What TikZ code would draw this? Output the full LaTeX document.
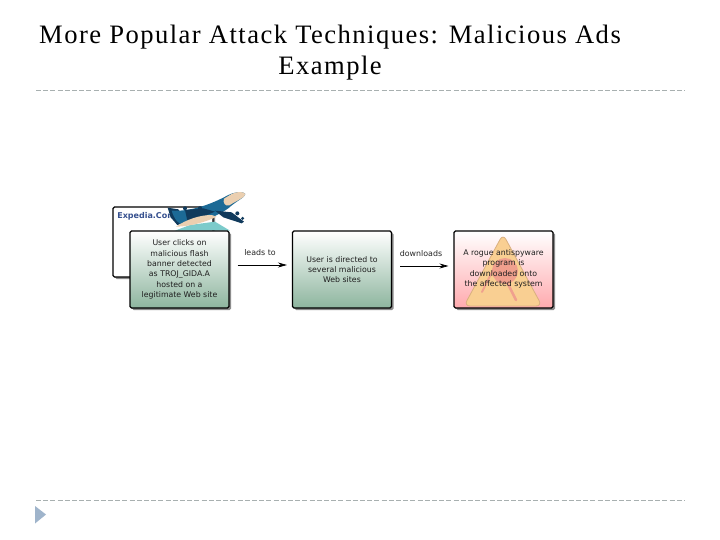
\documentclass[tikz,border=0pt]{standalone}
\usepackage{fontspec}
\setmainfont{Liberation Serif}
\setsansfont{DejaVu Sans}
\newfontfamily\titlefont[LetterSpace=5.5]{Liberation Serif}
\usetikzlibrary{shadows,arrows.meta}
\definecolor{rule}{HTML}{A8B0B0}
\definecolor{bul}{HTML}{9FB4CB}
\definecolor{boxgreen}{HTML}{8DB59E}
\definecolor{boxpink}{HTML}{FFAAAE}
\definecolor{planeblue}{HTML}{1C6A96}
\definecolor{planedark}{HTML}{103A5C}
\definecolor{planelight}{HTML}{EBCFB0}
\definecolor{expblue}{HTML}{36508F}
\definecolor{wedge}{HTML}{7CCBCB}
\definecolor{tri}{HTML}{F9CF92}
\definecolor{triedge}{HTML}{D9B080}
\definecolor{trired}{HTML}{F0A08E}
\tikzset{
  flow/.style={draw=black,line width=1.1pt,rounded corners=1.5pt,minimum width=99pt,minimum height=77pt,
    inner sep=0pt,general shadow={shadow xshift=2pt,shadow yshift=-2pt,fill=black!45}},
  flow text/.style={align=center,inner sep=0pt,font=\sffamily\fontsize{7.8}{10.4}\selectfont,text=black!88},
  green box/.style={flow,top color=white,bottom color=boxgreen},
  pink box/.style={flow,top color=white,bottom color=boxpink},
  link/.style={line width=0.7pt,-{Stealth[length=9pt,width=5pt]},shorten >=5pt,shorten <=8pt},
  link text/.style={font=\sffamily\fontsize{7.9}{9}\selectfont,text=black!85,inner sep=0pt},
  title/.style={font=\titlefont\fontsize{26.6}{30}\selectfont,text=black,inner sep=0pt},
  rule line/.style={draw=rule,line width=0.8pt,dash pattern=on 5pt off 2.2pt},
}
\begin{document}
\begin{tikzpicture}[x=1pt,y=-1pt]
\useasboundingbox (0,0) rectangle (720,540);
\fill[white] (0,0) rectangle (720,540);
\node[title] (t1) at (330,37.5) {More Popular Attack Techniques: Malicious Ads};
\node[title] (t2) at (330,68) {Example};
\draw[rule line] (36,90.5) -- (685,90.5);
\draw[rule line] (36,500.5) -- (685,500.5);
\fill[bul] (35,506) -- (46,514.5) -- (35,523.5) -- cycle;
% back window
\node[flow,fill=white,minimum width=100pt,minimum height=70pt] (back) at (163,242) {};
\node[font=\sffamily\bfseries\fontsize{8}{9}\selectfont,text=expblue,inner sep=0pt] (exp) at (146.5,216) {Expedia.Com};
% plane (coordinates: 3x crop at 100,180)
\begin{scope}[shift={(100,180)},x=0.3333pt,y=-0.3333pt]
  \fill[wedge] (225,152) -- (270,135) -- (345,125) -- (390,152) -- cycle;
  \fill[planedark] (203,83) -- (235,88) -- (262,125) -- (232,135) -- (212,112) -- cycle;
  \fill[planeblue] (215,92) .. controls (270,95) and (330,75) .. (385,45) .. controls (410,33) and (433,35) .. (436,42)
    .. controls (436,52) and (410,62) .. (385,85) .. controls (350,110) and (300,128) .. (255,136)
    .. controls (235,136) and (222,115) .. (215,92) -- cycle;
  \fill[planelight] (395,42) .. controls (412,33) and (433,35) .. (436,42) .. controls (436,52) and (410,62) .. (388,76)
    .. controls (375,80) and (368,68) .. (372,56) -- cycle;
  \fill[planedark] (255,90) -- (310,85) -- (345,95) -- (290,118) -- (262,122) -- cycle;
  \fill[planelight] (228,140) .. controls (260,118) and (300,105) .. (335,105) -- (350,110) .. controls (320,125) and (270,140) .. (228,140) -- cycle;
  \fill[planedark] (345,92) -- (395,97) -- (432,125) -- (425,130) -- (370,112) -- cycle;
  \fill[planedark] (255,85) circle[radius=6] (300,85) circle[radius=6.5] (412,100) circle[radius=6] (428,115) circle[radius=5];
\end{scope}
% front boxes
\node[green box] (a) at (179.5,269.5) {};
\node[flow text] (at) at (a.center) {User clicks on\\malicious flash\\banner detected\\as TROJ\_GIDA.A\\hosted on a\\legitimate Web site};
\node[green box] (b) at (342,269.5) {};
\node[flow text] (bt) at (b.center) {User is directed to\\several malicious\\Web sites};
\node[pink box] (c) at (503.5,269.5) {};
\fill[tri,draw=triedge,line width=0.8pt,rounded corners=6pt] (503,234) -- (542,306) -- (464,306) -- cycle;
\fill[trired] (505,271) circle[radius=13pt];
\draw[trired,line width=2.5pt,line cap=round] (507,282) -- (516,300);
\draw[trired,line width=2pt,line cap=round] (496,264) -- (482,292);
\node[flow text] (ct) at (503.5,269) {A rogue antispyware\\program is\\downloaded onto\\the affected system};
% connectors
\draw[link] ([yshift=4.5pt]a.east) -- ([yshift=4.5pt]b.west);
\draw[link] ([yshift=3.5pt]b.east) -- ([yshift=3.5pt]c.west);
\node[link text] (l1) at (260,252.5) {leads to};
\node[link text] (l2) at (421,253.5) {downloads};
\end{tikzpicture}
\end{document}
